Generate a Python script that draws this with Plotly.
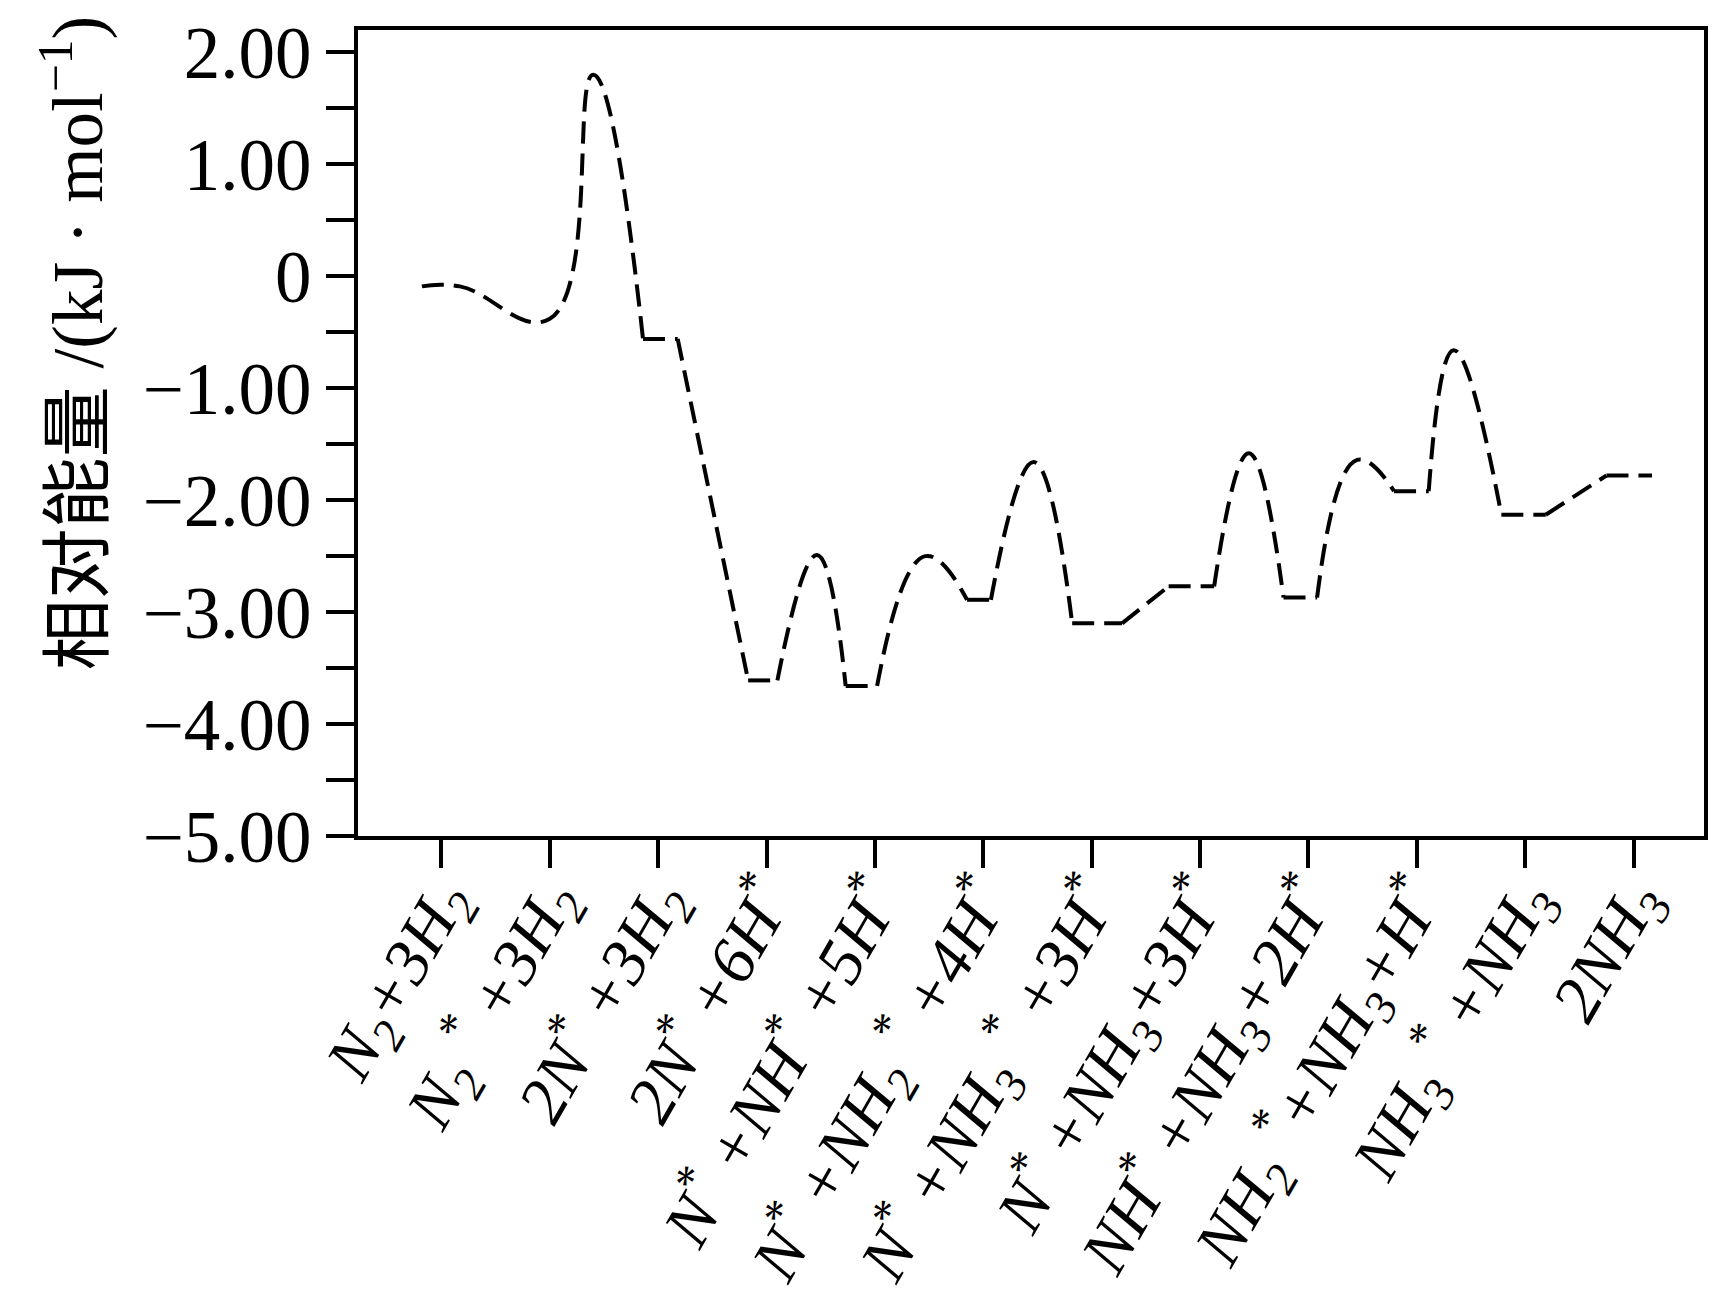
import plotly.graph_objects as go

# ---------------- data ----------------
states = [
    "N<sub>2</sub>+3H<sub>2</sub>",
    "N<sub>2</sub> <sup>*</sup> +3H<sub>2</sub>",
    "2N<sup>*</sup> +3H<sub>2</sub>",
    "2N<sup>*</sup> +6H<sup>*</sup>",
    "N<sup>*</sup> +NH<sup>*</sup> +5H<sup>*</sup>",
    "N<sup>*</sup> +NH<sub>2</sub> <sup>*</sup> +4H<sup>*</sup>",
    "N<sup>*</sup> +NH<sub>3</sub> <sup>*</sup> +3H<sup>*</sup>",
    "N<sup>*</sup> +NH<sub>3</sub>+3H<sup>*</sup>",
    "NH<sup>*</sup> +NH<sub>3</sub>+2H<sup>*</sup>",
    "NH<sub>2</sub> <sup>*</sup>+NH<sub>3</sub>+H<sup>*</sup>",
    "NH<sub>3</sub> <sup>*</sup> +NH<sub>3</sub>",
    "2NH<sub>3</sub>",
]
# relative energy of each intermediate state
state_energy = [-0.09, -0.38, -0.56, -3.61, -3.66, -2.89, -3.10, -2.77, -2.87, -1.92, -2.13, -1.78]
# horizontal extent of each state's level (in category units)
level_left = [-0.18, 1.00, 1.86, 2.83, 3.73, 4.85, 5.82, 6.71, 7.77, 8.79, 9.78, 10.75]
level_right = [0.17, 1.00, 2.18, 3.10, 4.02, 5.07, 6.28, 7.13, 8.08, 9.11, 10.19, 11.17]
# whether a level is blended smoothly into the curve (no corners)
level_smooth = [True, True, False, False, False, False, False, False, False, False, False, False]
# transition states following each state (None = no barrier)
ts_pos = [None, 1.40, None, 3.465, 4.465, 5.465, None, 7.45, 8.45, 9.34, None, None]
ts_energy = [None, 1.80, None, -2.49, -2.50, -1.66, None, -1.58, -1.64, -0.66, None, None]

y_tickvals = [2, 1, 0, -1, -2, -3, -4, -5]
y_ticktext = ["2.00", "1.00", "0", "\u22121.00", "\u22122.00", "\u22123.00", "\u22124.00", "\u22125.00"]
y_minor = [1.5, 0.5, -0.5, -1.5, -2.5, -3.5, -4.5]

# ---------------- build the path pieces ----------------
pts = []  # (x, y, is_corner)
for i, e in enumerate(state_energy):
    corner = not level_smooth[i]
    if level_left[i] < level_right[i]:
        pts.append((level_left[i], e, corner))
        pts.append((level_right[i], e, corner))
    else:
        pts.append((level_left[i], e, False))
    if ts_pos[i] is not None:
        pts.append((ts_pos[i], ts_energy[i], False))

pieces = []
cur = [pts[0]]
for p in pts[1:]:
    cur.append(p)
    if p[2]:
        pieces.append(cur)
        cur = [p]
if len(cur) > 1:
    pieces.append(cur)

fig = go.Figure()
for piece in pieces:
    xs = [p[0] for p in piece]
    ys = [p[1] for p in piece]
    shape = "spline" if len(piece) > 2 else "linear"
    fig.add_trace(go.Scatter(
        x=xs, y=ys, mode="lines",
        line=dict(color="black", width=4, dash="22px,10px", shape=shape, smoothing=1.3),
        showlegend=False, hoverinfo="skip",
    ))

FONT = "Liberation Serif, 'Noto Sans CJK SC', serif"

# page body has an 8px margin: figure is sized/offset so the plot area lands at
# x 358..1704, y 30..836 of the window
fig.update_layout(
    width=1718, height=1298,
    margin=dict(l=350, r=22, t=22, b=470),
    paper_bgcolor="white", plot_bgcolor="white",
    font=dict(family=FONT, color="black"),
    xaxis=dict(
        range=[-0.77, 11.65], automargin=False,
        tickmode="array", tickvals=list(range(len(states))), ticktext=states,
        tickangle=-60,
        tickfont=dict(family=FONT, size=66, style="italic", color="black"),
        ticklabelstandoff=-33, ticklabelshift=0,
        ticks="outside", ticklen=28, tickwidth=4, tickcolor="black",
        showline=True, linewidth=4, linecolor="black", mirror=True,
        showgrid=False, zeroline=False,
    ),
    yaxis=dict(
        range=[-5, 2.2], automargin=False,
        tickmode="array", tickvals=y_tickvals, ticktext=y_ticktext,
        tickfont=dict(family=FONT, size=73, color="black"),
        ticks="outside", ticklen=28, tickwidth=4, tickcolor="black",
        minor=dict(tickmode="array", tickvals=y_minor,
                   ticks="outside", ticklen=28, tickwidth=4, tickcolor="black"),
        showline=True, linewidth=4, linecolor="black", mirror=True,
        showgrid=False, zeroline=False,
    ),
    annotations=[dict(
        text="相对能量 /(kJ · mol<sup>\u22121</sup>)",
        xref="paper", yref="paper", x=-0.212, y=0.611,
        xanchor="center", yanchor="middle", textangle=-90, showarrow=False,
        font=dict(family=FONT, size=71, color="black"),
    )],
)

fig.write_html("out.html")
